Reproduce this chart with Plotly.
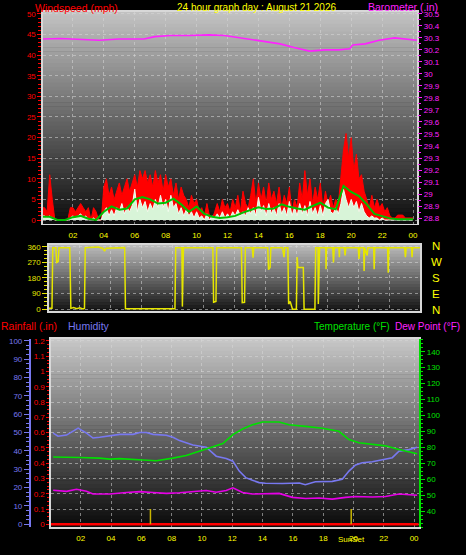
import plotly.graph_objects as go

W, H = 466, 555

# ---------------- data ----------------
# wind gust (mph), 10-minute samples from 00:00 to 24:00
gust_mph = [
    3, 3, 2, 11, 5, 0,   0, 0, 0, 0, 0, 3,   3, 2, 3, 4, 3, 2,   3, 0, 3, 2, 0, 0,
    8, 10, 6, 8, 5, 7,   9, 6, 8, 10, 7, 9,  11, 8, 12, 10, 12, 9,  11, 8, 12, 9, 11, 7,
    11, 8, 10, 6, 9, 5,  8, 6, 5, 3, 6, 4,   5, 2, 3, 1, 4, 1,   0, 2, 4, 2, 5, 3,
    4, 2, 5, 3, 6, 2,    7, 4, 3, 6, 10, 4,  9, 5, 8, 4, 9, 5,   7, 4, 8, 3, 6, 4,
    8, 2, 5, 3, 9, 5,    12, 6, 10, 4, 8, 5, 9, 3, 7, 4, 6, 3,   5, 4, 10, 17, 21, 15,
    20, 12, 16, 10, 11, 7, 5, 3, 6, 3, 5, 3, 4, 2, 3, 1, 0.5, 0.5, 1.2, 1.2, 1.2, 0.5, 0.5, 0.5,
    0.5,
]
# wind speed (mph), 10-minute samples
speed_mph = [
    1, 1, 0.5, 1, 0.5, 0,   0, 0, 0, 0, 0, 0.5,   1, 0.5, 1, 1.5, 0.5, 1,   0, 0, 0.5, 0, 0, 0,
    2, 3, 1, 2.5, 1, 3,     2, 4, 1.5, 3, 2, 3.5,  7.5, 2, 5, 3, 4.5, 2,   4, 2.5, 5, 3, 6, 3,
    5, 2, 6, 3, 4, 1.5,     3, 1, 2.5, 1, 2, 0.5,  2, 0.5, 1, 0, 1.5, 0,   1, 0.5, 1.5, 0.5, 2, 0.5,
    1.5, 0.5, 2, 1, 2.5, 1, 2, 1, 3, 1.5, 3, 1,    5.5, 2, 3.5, 1, 4, 1.5, 3, 1, 4, 1.5, 3, 1,
    4.5, 1, 3, 1, 4, 1.5,   3.5, 1, 4.5, 1.5, 3, 1, 3.5, 1, 4, 5, 2, 1.5, 3, 1.5, 4, 7.5, 5, 3,
    5, 3, 4.5, 2, 4, 2,     1, 0.5, 1, 0.5, 0.5, 0, 0.5, 0, 0, 0, 0, 0,  0, 0, 0, 0, 0, 0,
    0,
]
# average wind (mph), 30-minute samples
avg_mph = [
    0.8, 0.8, 0, 0, 0.7, 1, 0.3, 0, 2, 3.3,
    2.5, 2.8, 5, 5.6, 5, 4, 4.2, 5.2, 3.8, 2,
    3.3, 1.5, 0.8, 0.5, 0.7, 1, 1.8, 2.5, 3.1, 2.7,
    2.8, 3.8, 3.2, 2.8, 2.5, 3.4, 4.2, 3, 2.6, 8.3,
    6.8, 5.8, 3.8, 1.5, 0.9, 0.4, 0.2, 0.2, 0.2,
]
t10 = [i / 6 for i in range(len(gust_mph))]
t30 = [i / 2 for i in range(len(avg_mph))]

baro_hours = [0.06, 1.2, 1.9, 2.8, 3.7, 5.0, 6.6, 7.3, 8.3, 9.5, 10.8, 11.8, 12.8,
              14.1, 15.4, 16.3, 17.3, 18.3, 19.2, 19.9, 20.1, 20.9, 21.8, 22.8, 23.4, 24.25]
baro_inhg = [30.29, 30.295, 30.29, 30.285, 30.28, 30.29, 30.29, 30.31, 30.32, 30.32, 30.325,
             30.32, 30.30, 30.28, 30.25, 30.22, 30.19, 30.20, 30.20, 30.21, 30.24, 30.25,
             30.28, 30.30, 30.29, 30.28]
baro_ticks = [28.8, 28.9, 29.0, 29.1, 29.2, 29.3, 29.4, 29.5, 29.6, 29.7, 29.8, 29.9,
              30.0, 30.1, 30.2, 30.3, 30.4, 30.5]
baro_ticktext = ["28.8", "28.9", "29", "29.1", "29.2", "29.3", "29.4", "29.5", "29.6",
                 "29.7", "29.8", "29.9", "30", "30.1", "30.2", "30.3", "30.4", "30.5"]

dir_hours = [0.0, 0.2, 0.25, 0.45, 0.5, 0.6, 0.65, 1.35, 1.42, 1.6, 1.8, 2.0, 2.2, 2.3, 2.35,
             3.2, 3.5, 3.6, 3.7, 4.9, 4.95, 8.15, 8.2, 8.6, 8.63, 8.7, 10.6, 10.65, 10.8, 10.85,
             12.45, 12.5, 12.65, 12.7, 13.15, 13.2, 13.25, 14.15, 14.2, 14.3, 14.35, 15.1, 15.2,
             15.25, 15.45, 15.5, 15.6, 15.7, 15.75, 16.0, 16.05, 16.1, 16.45, 16.5, 17.2, 17.25,
             17.4, 17.42, 17.5, 17.9, 17.92, 17.95, 18.35, 18.4, 18.45, 18.75, 18.78, 18.8,
             19.1, 19.15, 19.2, 20.0, 20.05, 20.1, 20.35, 20.38, 20.42, 20.58, 20.62, 21.0,
             21.03, 21.07, 21.9, 21.94, 21.98, 23.0, 23.05, 23.1, 23.45, 23.48, 23.52, 24.0]
dir_deg = [5, 5, 355, 355, 270, 275, 355, 355, 5, 10, 3, 8, 2, 5, 355,
           358, 350, 335, 352, 355, 3, 3, 355, 355, 15, 355, 355, 40, 45, 355,
           355, 38, 40, 355, 355, 297, 355, 355, 228, 240, 355, 355, 300,
           355, 355, 30, 45, 5, 0, 0, 300, 240, 240, 0, 0, 355,
           355, 30, 355, 355, 230, 355, 355, 270, 355, 355, 300, 355,
           355, 310, 355, 355, 290, 355, 355, 220, 355, 310, 355, 355,
           230, 355, 355, 210, 355, 355, 300, 355, 355, 300, 355, 355]

hum_hours = [0.18, 0.5, 1.06, 1.72, 1.83, 2.38, 2.81, 3.25, 3.91, 4.57, 5.45, 5.89, 6.33, 6.77,
             7.65, 8.08, 8.52, 9.4, 10.28, 10.94, 11.6, 12.04, 12.46, 12.89, 13.33, 13.77,
             14.19, 15.31, 16.43, 16.82, 17.48, 18.6, 19.26, 19.7, 20.14, 20.58, 21.24, 21.9,
             22.56, 23.0, 23.66, 24.2]
hum_pct = [49.7, 48.0, 48.6, 51.5, 52.4, 49.7, 47, 47.4, 48.3, 49, 49, 50, 50, 49,
           48.5, 47.4, 45.6, 43.2, 42, 37.1, 35.9, 34.4, 29, 25.4, 24, 22.7,
           22.4, 22.2, 22.5, 21.6, 23.2, 23.4, 24.5, 29, 32.3, 33.5, 34.1, 35.4,
           36.3, 39.8, 40.7, 42]

temp_hours = [0.18, 1.06, 1.94, 3.25, 3.91, 4.57, 5.45, 6.11, 6.99, 7.65, 8.08, 8.96, 9.84,
              10.72, 11.38, 12.04, 12.68, 13.33, 13.99, 15.09, 15.75, 16.82, 17.94, 19.04,
              19.7, 20.36, 21.24, 22.11, 23.0, 23.66, 24.2]
temp_f = [74, 74, 73.7, 73.3, 72.7, 73.0, 72.7, 72.1, 71.7, 72.5, 73.3, 75, 77.7,
          80.2, 82.4, 88, 91.6, 94.2, 95.9, 95.9, 94.2, 93.2, 92, 90.1,
          84.9, 82.9, 81.8, 81, 78.7, 77.3, 76]

dew_hours = [0.18, 1.06, 1.72, 2.38, 2.81, 3.91, 5.01, 5.89, 6.77, 7.65, 8.52, 9.4, 10.28,
             10.94, 11.6, 12.04, 12.68, 13.33, 14.21, 15.09, 15.97, 16.84, 17.73, 18.6,
             19.48, 20.14, 21.24, 22.11, 23.0, 23.87, 24.2]
dew_f = [53.2, 52.5, 53.8, 52.5, 50.8, 50.8, 51.8, 52.3, 51.8, 51.2, 51.6, 52.3, 53,
         51.9, 53, 54.7, 51.8, 50.8, 50.8, 51.2, 48.7, 48, 48.3, 47.6,
         48.7, 49.3, 48.9, 49.3, 50.8, 50, 50]

rain_hours = [0.0, 24.3]
rain_in = [0.0, 0.0]

sunrise_hour = 6.6
sunset_hour = 19.85
sun_marker_in = [0.0, 0.1]

hour_ticks = [2, 4, 6, 8, 10, 12, 14, 16, 18, 20, 22, 24]
hour_labels = ["02", "04", "06", "08", "10", "12", "14", "16", "18", "20", "22", "00"]
wind_ticks = [0, 5, 10, 15, 20, 25, 30, 35, 40, 45, 50]
dir_ticks = [0, 90, 180, 270, 360]
rain_ticks = [0, 0.1, 0.2, 0.3, 0.4, 0.5, 0.6, 0.7, 0.8, 0.9, 1.0, 1.1, 1.2]
rain_ticktext = ["0", "0.1", "0.2", "0.3", "0.4", "0.5", "0.6", "0.7", "0.8", "0.9", "1", "1.1", "1.2"]
hum_ticks = [0, 10, 20, 30, 40, 50, 60, 70, 80, 90, 100]
temp_ticks = [40, 50, 60, 70, 80, 90, 100, 110, 120, 130, 140]
compass_labels = ["N", "W", "S", "E", "N"]

# ---------------- styling ----------------
FONT = "Liberation Sans, Arial, sans-serif"
RED = "#ff0000"
MAG = "#ff22ff"
YEL = "#ffff00"
DIRY = "#e6e600"
BLUE = "#7878f0"
GRN = "#00e000"
GRID = "rgba(215,215,215,0.55)"
BORDER = "#d8d8d8"


def px_x(x):
    return x / W


def px_y(y):
    return 1 - y / H


def bands(x0, x1, y0, y1, g_top, g_bot, n):
    out = []
    for k in range(n):
        t = (k + 0.5) / n
        g = int(round(g_top + (g_bot - g_top) * t))
        ya = y0 + (y1 - y0) * k / n
        yb = y0 + (y1 - y0) * (k + 1) / n + 0.6
        out.append(dict(type="rect", xref="paper", yref="paper",
                        x0=px_x(x0), x1=px_x(x1), y0=px_y(min(yb, y1)), y1=px_y(ya),
                        fillcolor=f"rgb({g},{g},{g})", line=dict(width=0), layer="below"))
    return out


fig = go.Figure()

# top panel
fig.add_trace(go.Scatter(x=t10, y=gust_mph, mode="lines", fill="tozeroy",
                         line=dict(color=RED, width=1), fillcolor=RED, xaxis="x", yaxis="y"))
fig.add_trace(go.Scatter(x=t10, y=speed_mph, mode="lines", fill="tozeroy",
                         line=dict(color="#f0fff0", width=1), fillcolor="#d8f4d8", xaxis="x", yaxis="y"))
fig.add_trace(go.Scatter(x=t30, y=avg_mph, mode="lines",
                         line=dict(color="#00c000", width=2), xaxis="x", yaxis="y"))
fig.add_trace(go.Scatter(x=baro_hours, y=baro_inhg, mode="lines",
                         line=dict(color=MAG, width=1.6), xaxis="x", yaxis="y2"))

# middle panel
fig.add_trace(go.Scatter(x=dir_hours, y=dir_deg, mode="lines",
                         line=dict(color=DIRY, width=1.5), xaxis="x2", yaxis="y3"))

# bottom panel
fig.add_trace(go.Scatter(x=rain_hours, y=rain_in, mode="lines",
                         line=dict(color=RED, width=2.5), xaxis="x3", yaxis="y4"))
for h in (sunrise_hour, sunset_hour):
    fig.add_trace(go.Scatter(x=[h, h], y=sun_marker_in, mode="lines",
                             line=dict(color="#c8b400", width=1.5), xaxis="x3", yaxis="y4"))
fig.add_trace(go.Scatter(x=hum_hours, y=hum_pct, mode="lines",
                         line=dict(color=BLUE, width=1.6), xaxis="x3", yaxis="y5"))
fig.add_trace(go.Scatter(x=temp_hours, y=temp_f, mode="lines",
                         line=dict(color=GRN, width=1.6), xaxis="x3", yaxis="y6"))
fig.add_trace(go.Scatter(x=dew_hours, y=dew_f, mode="lines",
                         line=dict(color="#e600e6", width=1.6), xaxis="x3", yaxis="y6"))

shapes = []
shapes += bands(43, 418, 10, 224, 195, 12, 54)
shapes += bands(49, 421, 245, 312, 190, 18, 22)
shapes += bands(51, 420, 340, 530, 200, 8, 48)

tickfont = lambda c: dict(color=c, size=8, family=FONT)

xcommon = dict(tickvals=hour_ticks, ticktext=hour_labels, tickfont=tickfont(YEL),
               ticks="outside", ticklen=3, tickcolor="rgba(0,0,0,0)",
               showgrid=True, gridcolor=GRID, griddash="dot", gridwidth=1,
               showline=True, linecolor=BORDER, linewidth=1.5, mirror=True, zeroline=False)

fig.update_layout(
    width=W, height=H,
    margin=dict(l=0, r=0, t=0, b=0),
    paper_bgcolor="black", plot_bgcolor="rgba(0,0,0,0)",
    showlegend=False,
    font=dict(family=FONT),
    shapes=shapes,
    xaxis=dict(domain=[px_x(43), px_x(418)], range=[0.06, 24.26], anchor="y", **xcommon),
    yaxis=dict(domain=[px_y(224), px_y(10)], range=[-0.96, 50.5], anchor="x",
               tickvals=wind_ticks, tickfont=tickfont(RED), ticks="outside", ticklen=4,
               tickcolor=RED, minor=dict(tickmode="linear", tick0=0, dtick=1, ticks="outside",
                                         ticklen=3, tickcolor=RED, showgrid=False),
               showgrid=True, gridcolor=GRID, griddash="dot",
               showline=True, linecolor=BORDER, linewidth=1.5, mirror=True, zeroline=False),
    yaxis2=dict(overlaying="y", side="right", anchor="x", range=[28.751, 30.516],
                tickvals=baro_ticks, ticktext=baro_ticktext, tickfont=tickfont(MAG),
                ticks="outside", ticklen=4, tickcolor=MAG,
                minor=dict(tickmode="linear", tick0=28.8, dtick=0.05, ticks="outside",
                           ticklen=3, tickcolor=MAG, showgrid=False),
                showgrid=False, zeroline=False, showline=False),
    xaxis2=dict(domain=[px_x(49), px_x(421)], range=[0, 24], anchor="y3",
                showticklabels=False, ticks="", showgrid=True, gridcolor=GRID, griddash="dot",
                tickvals=hour_ticks,
                showline=True, linecolor=BORDER, linewidth=1.5, mirror=True, zeroline=False),
    yaxis3=dict(domain=[px_y(312), px_y(245)], range=[-11.4, 371.4], anchor="x2",
                tickvals=dir_ticks, tickfont=tickfont(DIRY), ticks="outside", ticklen=5,
                tickcolor=DIRY, minor=dict(tickmode="linear", tick0=0, dtick=22.5, ticks="outside",
                                           ticklen=3, tickcolor=DIRY, showgrid=False),
                showgrid=True, gridcolor=GRID, griddash="dot",
                showline=True, linecolor=BORDER, linewidth=1.5, mirror=True, zeroline=False),
    xaxis3=dict(domain=[px_x(51), px_x(420)], range=[0.03, 24.33], anchor="y4", **xcommon),
    yaxis4=dict(domain=[px_y(530), px_y(340)], range=[-0.019, 1.213], anchor="x3",
                tickvals=rain_ticks, ticktext=rain_ticktext, tickfont=tickfont(RED),
                ticks="outside", ticklen=3, tickcolor=RED,
                minor=dict(tickmode="linear", tick0=0, dtick=0.025, ticks="outside",
                           ticklen=2, tickcolor=RED, showgrid=False),
                showgrid=True, gridcolor=GRID, griddash="dot",
                showline=True, linecolor=BORDER, linewidth=1.5, mirror=True, zeroline=False),
    yaxis5=dict(overlaying="y4", side="left", anchor="free", position=px_x(30),
                range=[-1.6, 101], tickvals=hum_ticks, tickfont=tickfont(BLUE),
                ticks="outside", ticklen=5, tickcolor=BLUE,
                minor=dict(tickmode="linear", tick0=0, dtick=2.5, ticks="outside",
                           ticklen=3, tickcolor=BLUE, showgrid=False),
                showline=True, linecolor=BLUE, linewidth=2.5, showgrid=False, zeroline=False),
    yaxis6=dict(overlaying="y4", side="right", anchor="x3", range=[30, 148],
                tickvals=temp_ticks, tickfont=tickfont(GRN),
                ticks="outside", ticklen=4, tickcolor=GRN,
                minor=dict(tickmode="linear", tick0=30, dtick=2.5, ticks="outside",
                           ticklen=2, tickcolor=GRN, showgrid=False),
                showline=True, linecolor=GRN, linewidth=2, showgrid=False, zeroline=False),
)

def label(text, x, y, color, anchor="left", size=10):
    fig.add_annotation(text=text, x=px_x(x), y=px_y(y), xref="paper", yref="paper",
                       xanchor=anchor, yanchor="middle", showarrow=False, borderpad=0,
                       font=dict(color=color, size=size, family=FONT))

label("Windspeed (mph)", 34, 6, RED, size=10.5)
label("24 hour graph day : August 21 2026", 257, 6, YEL, anchor="center")
label("Barometer (.in)", 440, 5, MAG, anchor="right", size=10.5)
label("Rainfall (.in)", 0, 327, RED, size=10.5)
label("Humidity", 67, 327, BLUE, size=10.5)
label("Temperature (°F)", 392, 327, GRN, anchor="right")
label("Dew Point (°F)", 395, 327, MAG)
for txt, yy in zip(compass_labels, [246, 262, 279, 295, 311]):
    label(txt, 437, yy, YEL, anchor="center", size=11.5)

fig.add_annotation(text="SunSet", x=sunset_hour, xref="x3", y=px_y(542), yref="paper",
                   xanchor="center", yanchor="middle", showarrow=False,
                   font=dict(color=YEL, size=8, family=FONT))

fig.write_html("out.html", config={"displayModeBar": False, "staticPlot": True},
               post_script="document.body.style.margin='0';document.body.style.overflow='hidden';")
